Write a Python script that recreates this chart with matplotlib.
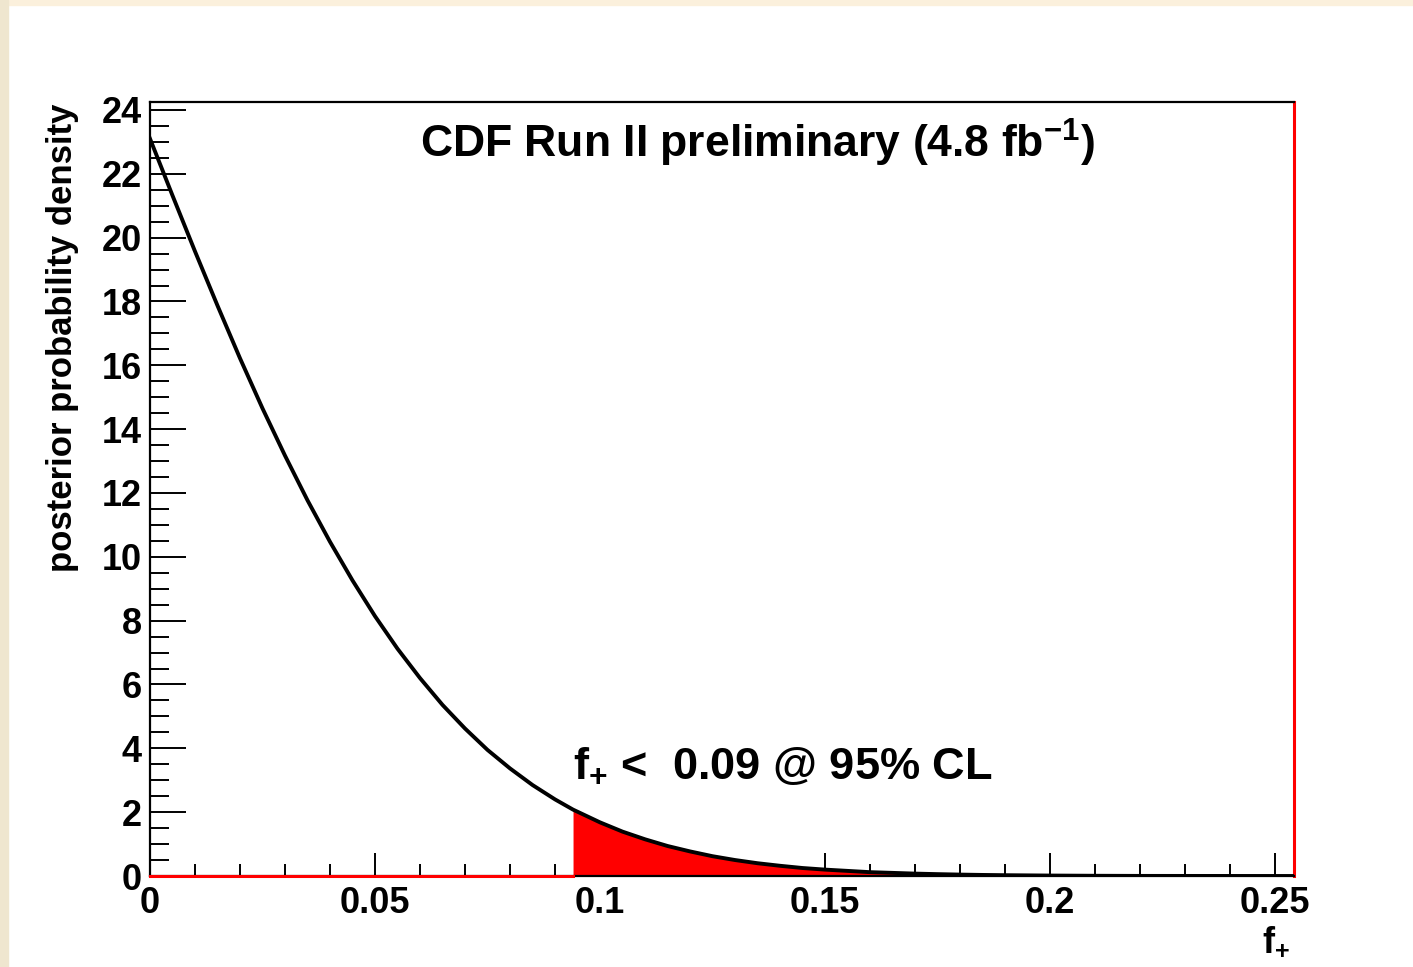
import numpy as np
import matplotlib.pyplot as plt
from matplotlib.patches import Rectangle
from matplotlib.ticker import MultipleLocator

plt.rcParams['font.family'] = ['Liberation Sans', 'DejaVu Sans']
plt.rcParams['font.weight'] = 'bold'
plt.rcParams['mathtext.fontset'] = 'custom'
plt.rcParams['mathtext.rm'] = 'Liberation Sans:bold'
plt.rcParams['mathtext.it'] = 'Liberation Sans:bold'
plt.rcParams['mathtext.bf'] = 'Liberation Sans:bold'

# posterior density of f+ (points along the curve)
f_plus = [0.0, 0.005, 0.010, 0.015, 0.020, 0.025, 0.030, 0.035, 0.040, 0.045,
          0.050, 0.055, 0.060, 0.065, 0.070, 0.075, 0.080, 0.085, 0.090, 0.094,
          0.100, 0.105, 0.110, 0.115, 0.120, 0.125, 0.130, 0.135, 0.140, 0.145,
          0.150, 0.155, 0.160, 0.1667, 0.170, 0.175, 0.180, 0.185, 0.190, 0.200,
          0.210, 0.220, 0.254]
density = [23.1, 21.32, 19.57, 17.87, 16.22, 14.65, 13.17, 11.77, 10.47, 9.26,
           8.14, 7.12, 6.20, 5.36, 4.62, 3.95, 3.37, 2.85, 2.40, 2.08,
           1.68, 1.39, 1.15, 0.94, 0.77, 0.62, 0.50, 0.40, 0.32, 0.25,
           0.20, 0.16, 0.12, 0.09, 0.075, 0.058, 0.044, 0.033, 0.025, 0.014,
           0.007, 0.003, 0.0]
limit = 0.094      # 95% CL upper limit
fill_end = 0.1667  # last bin of the shaded histogram

x = np.array(f_plus)
y = np.array(density)

fig = plt.figure(figsize=(14.13, 9.67), dpi=100)
fig.patch.set_facecolor('white')
# beige page border on top and left
fig.patches.append(Rectangle((0, 1 - 5 / 967), 1, 5 / 967, transform=fig.transFigure,
                             color='#fbf0dc', zorder=0))
fig.patches.append(Rectangle((0, 0), 8 / 1413, 1, transform=fig.transFigure,
                             color='#efe6cf', zorder=0))

ax = fig.add_axes([150 / 1413, 91 / 967, 1144 / 1413, 774 / 967])
ax.set_xlim(0, 0.2542)
ax.set_ylim(0, 24.25)

mask = (x >= limit) & (x <= fill_end)
ax.fill_between(x[mask], 0, y[mask], color='red', lw=0, zorder=2)
ax.plot([0, limit], [0, 0], color='red', lw=2.2, zorder=4, clip_on=False)
ax.plot(x, y, color='black', lw=2.8, zorder=3, solid_joinstyle='round')

for s in ['top', 'left', 'bottom']:
    ax.spines[s].set_linewidth(1.6)
ax.spines['right'].set_color('red')
ax.spines['right'].set_linewidth(2.2)

ax.xaxis.set_major_locator(MultipleLocator(0.05))
ax.xaxis.set_minor_locator(MultipleLocator(0.01))
ax.yaxis.set_major_locator(MultipleLocator(2))
ax.yaxis.set_minor_locator(MultipleLocator(0.5))
ax.set_xticks([0, 0.05, 0.1, 0.15, 0.2, 0.25])
ax.set_xticklabels(['0', '0.05', '0.1', '0.15', '0.2', '0.25'])
ax.tick_params(axis='x', which='major', direction='in', length=16.5, width=1.4,
               labelsize=26, pad=7)
ax.tick_params(axis='x', which='minor', direction='in', length=8.5, width=1.4)
ax.tick_params(axis='y', which='major', direction='in', length=26, width=1.4,
               labelsize=26, pad=6)
ax.tick_params(axis='y', which='minor', direction='in', length=13.5, width=1.4)

ax.text(0.236, 0.928, r'CDF Run II preliminary (4.8 fb$^{-1}$)', transform=ax.transAxes,
        fontsize=32, ha='left', va='baseline')
ax.text(0.370, 0.127, r'$\mathrm{f}_{+}$ <  0.09 @ 95% CL', transform=ax.transAxes,
        fontsize=32.5, ha='left', va='baseline')
ax.text(0.9965, -0.062, r'$\mathrm{f}_{+}$', transform=ax.transAxes,
        fontsize=26, ha='right', va='top')
ax.text(-0.0769, 0.9987, 'posterior probability density', transform=ax.transAxes,
        fontsize=25, rotation=90, ha='center', va='top')

fig.savefig('out.png', dpi=100)
